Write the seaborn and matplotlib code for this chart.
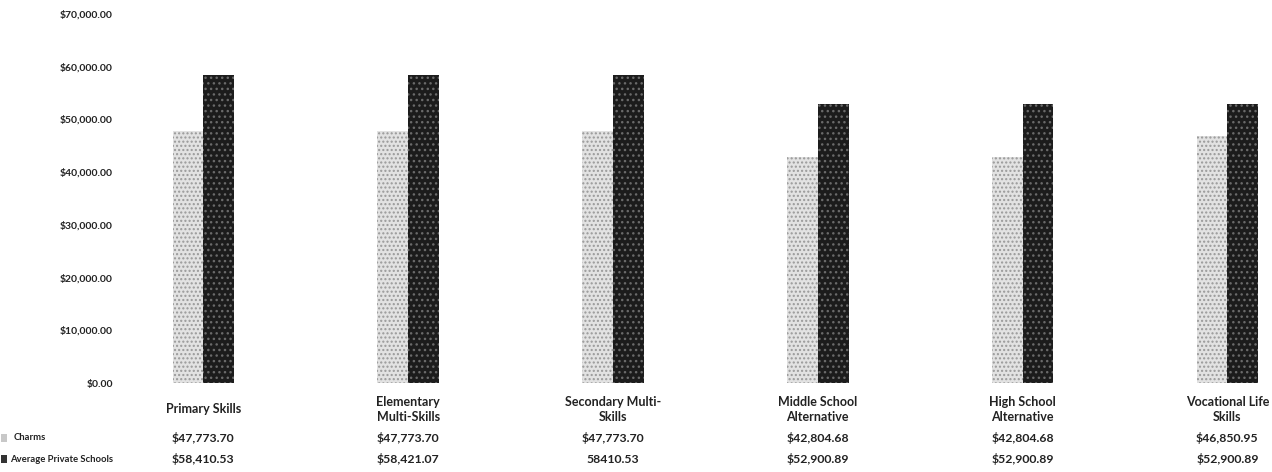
import pandas as pd
import matplotlib.pyplot as plt
import seaborn as sns
from matplotlib.ticker import FuncFormatter
from matplotlib.patches import Rectangle

# Chart data
programs = ["Primary Skills", "Elementary\nMulti-Skills", "Secondary Multi-\nSkills",
            "Middle School\nAlternative", "High School\nAlternative", "Vocational Life\nSkills"]
charms = [47773.70, 47773.70, 47773.70, 42804.68, 42804.68, 46850.95]
private_avg = [58410.53, 58421.07, 58410.53, 52900.89, 52900.89, 52900.89]
charms_labels = ["$47,773.70", "$47,773.70", "$47,773.70", "$42,804.68", "$42,804.68", "$46,850.95"]
private_labels = ["$58,410.53", "$58,421.07", "58410.53", "$52,900.89", "$52,900.89", "$52,900.89"]
series = ["Charms", "Average Private Schools"]

df = pd.DataFrame({
    "program": programs * 2,
    "salary": charms + private_avg,
    "group": [series[0]] * len(programs) + [series[1]] * len(programs),
})

sns.set_style("white")
plt.rcParams["font.family"] = ["Lato", "DejaVu Sans"]

fig = plt.figure(figsize=(12.72, 4.72), dpi=100)
ax = fig.add_axes([101 / 1272, 89 / 472, 1171 / 1272, 369 / 472])

sns.barplot(data=df, x="program", y="salary", hue="group", width=0.3,
            palette=["#e2e2e2", "#1c1c1c"], saturation=1, legend=False, ax=ax)

# stippled look of the scanned bars
for bar in ax.containers[0]:
    bar.set_hatch("....")
    bar.set_edgecolor("#999999")
    bar.set_linewidth(0)
for bar in ax.containers[1]:
    bar.set_hatch("...")
    bar.set_edgecolor("#6a6a6a")
    bar.set_linewidth(0)

ax.set_ylim(0, 70000)
ax.set_xlim(-0.5, (1272 - 101) / 204.8 - 0.5)
ax.set_yticks(range(0, 70001, 10000))
ax.yaxis.set_major_formatter(FuncFormatter(lambda v, p: f"${v:,.2f}"))
ax.set_xlabel("")
ax.set_ylabel("")
sns.despine(ax=ax, left=True, bottom=True)
ax.tick_params(axis="both", length=0)
ax.tick_params(axis="y", pad=-8.6, labelsize=7.5)
for lbl in ax.get_yticklabels():
    lbl.set_fontweight("bold")
    lbl.set_color("#222222")
ax.tick_params(axis="x", pad=19, labelsize=9)
for lbl in ax.get_xticklabels():
    lbl.set_va("center")
    lbl.set_fontweight("bold")
    lbl.set_color("#222222")
    lbl.set_linespacing(1.25)

# data table below the chart
trans = ax.get_xaxis_transform()
row_y = [-0.149, -0.206]
for labels, y in zip([charms_labels, private_labels], row_y):
    for i, txt in enumerate(labels):
        ax.text(i, y, txt, transform=trans, ha="center", va="center",
                fontsize=8.8, fontweight="bold", color="#222222")

for name, y, col in zip(series, [438, 459], ["#c8c8c8", "#333333"]):
    fig.text(14 / 1272 if name == "Charms" else 10 / 1272, 1 - y / 472, name,
             ha="left", va="center", fontsize=6.8, fontweight="bold", color="#222222")
    fig.add_artist(Rectangle((1 / 1272, 1 - (y + 4) / 472), 6 / 1272, 8 / 472,
                             transform=fig.transFigure, facecolor=col,
                             edgecolor="none", hatch="...."))

fig.savefig("out.png", dpi=100)
